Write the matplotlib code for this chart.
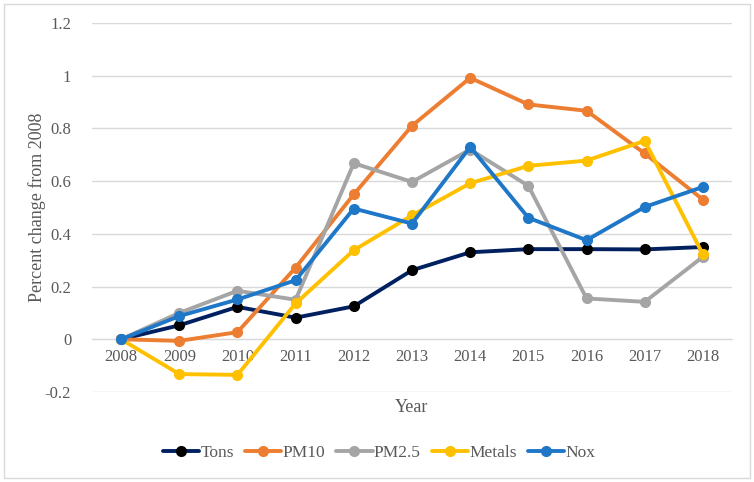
import matplotlib
matplotlib.use("Agg")
import matplotlib.pyplot as plt
from matplotlib.patches import Rectangle

years = ["2008", "2009", "2010", "2011", "2012", "2013", "2014", "2015", "2016", "2017", "2018"]
tons = [0, 0.053, 0.123, 0.082, 0.125, 0.262, 0.330, 0.342, 0.342, 0.341, 0.350]
pm10 = [0, -0.006, 0.027, 0.272, 0.550, 0.810, 0.992, 0.891, 0.867, 0.705, 0.530]
pm25 = [0, 0.100, 0.184, 0.150, 0.668, 0.597, 0.720, 0.582, 0.155, 0.142, 0.313]
metals = [0, -0.132, -0.135, 0.136, 0.338, 0.470, 0.592, 0.658, 0.678, 0.753, 0.322]
nox = [0, 0.088, 0.151, 0.224, 0.496, 0.439, 0.730, 0.461, 0.376, 0.502, 0.578]

series = [
    ("Tons", tons, "#002060", "#000000"),
    ("PM10", pm10, "#ED7D31", "#ED7D31"),
    ("PM2.5", pm25, "#A5A5A5", "#A5A5A5"),
    ("Metals", metals, "#FFC000", "#FFC000"),
    ("Nox", nox, "#1F77C8", "#1F77C8"),
]

txt = "#595959"
plt.rcParams["font.family"] = ["Liberation Serif", "DejaVu Serif"]

fig = plt.figure(figsize=(7.54, 4.82), dpi=100)
ax = fig.add_axes([92/754, 1-392/482, (732-92)/754, (392-23)/482])

x = list(range(len(years)))
for name, vals, lc, mc in series:
    ax.plot(x, vals, color=lc, lw=2.8, marker="o", markersize=7,
            markerfacecolor=mc, markeredgecolor=mc, label=name, solid_capstyle="round")

ax.set_xlim(-0.5, len(years) - 0.5)
ax.set_ylim(-0.2, 1.2)
ax.set_yticks([-0.2, 0, 0.2, 0.4, 0.6, 0.8, 1.0, 1.2])
ax.set_yticklabels(["-0.2", "0", "0.2", "0.4", "0.6", "0.8", "1", "1.2"])
ax.yaxis.grid(True, color="#D9D9D9", lw=1)
ax.set_axisbelow(True)
for s in ["top", "right", "left"]:
    ax.spines[s].set_visible(False)
ax.spines["bottom"].set_position(("data", 0))
ax.spines["bottom"].set_color("#D9D9D9")
ax.spines["bottom"].set_zorder(0.5)
ax.set_xticks(x)
ax.set_xticklabels(years)
ax.tick_params(axis="both", length=0, labelsize=12, colors=txt)
ax.tick_params(axis="x", pad=7)
ax.tick_params(axis="y", pad=15)

fig.text(37/754, 1-207/482, "Percent change from 2008", rotation=90, ha="center", va="center",
         fontsize=13, color=txt)
fig.text(412/754, 1-407/482, "Year", ha="center", va="center", fontsize=13, color=txt)

leg = fig.legend(loc="center", bbox_to_anchor=(379/754, 1-453/482), ncol=5, frameon=False,
                 fontsize=12.5, handlelength=2.1, handletextpad=0.05, columnspacing=0.65,
                 labelcolor=txt)

fig.patches.append(Rectangle((4/754, 4/482), 746/754, 474/482, transform=fig.transFigure,
                             fill=False, edgecolor="#D9D9D9", lw=1))

fig.savefig("out.png", dpi=100)
